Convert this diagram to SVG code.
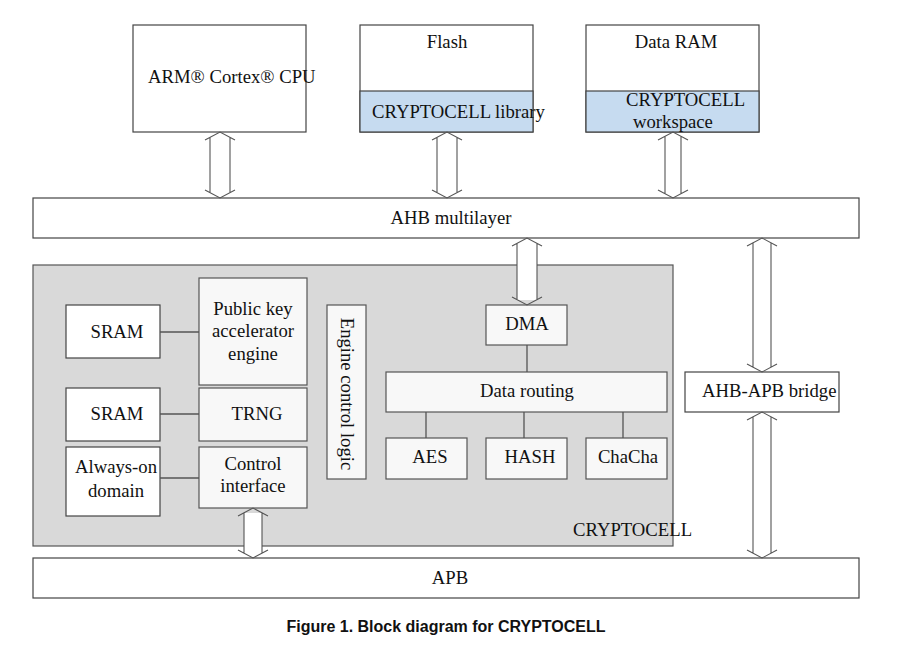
<svg xmlns="http://www.w3.org/2000/svg" width="908" height="650" viewBox="0 0 908 650">
<style>
text{font-family:"Liberation Serif","Times New Roman",serif;font-size:18.7px;fill:#111}
.c{text-anchor:middle}
.box{fill:#fff;stroke:#444;stroke-width:1.2}
.in{fill:#f8f8f8;stroke:#555;stroke-width:1.2}
.blue{fill:#c6dbf0;stroke:#444;stroke-width:1.2}
.ln{stroke:#555;stroke-width:1.3;fill:none}
.ar{stroke:#555;stroke-width:1.1;fill:none}
.sh{fill:#fff;stroke:none}
.cap{font-family:"Liberation Sans",Arial,sans-serif;font-weight:bold;font-size:16px;fill:#111}
</style>
<rect width="908" height="650" fill="#fff"/>
<g id="cryptocell">
<rect x="33" y="265" width="640" height="281" fill="#d9d9d9" stroke="#555" stroke-width="1.2"/>
<text x="573" y="536">CRYPTOCELL</text>
</g>
<g id="cpu"><rect class="box" x="133" y="25" width="173" height="107"/><text x="148" y="83">ARM® Cortex® CPU</text></g>
<g id="flash"><rect class="box" x="360" y="25" width="173" height="107"/><rect class="blue" x="360" y="91" width="173" height="41"/><text class="c" x="447" y="48">Flash</text><text x="372" y="118">CRYPTOCELL library</text></g>
<g id="dataram"><rect class="box" x="586" y="25" width="173" height="107"/><rect class="blue" x="586" y="91" width="173" height="41"/><text class="c" x="676" y="48">Data RAM</text><text x="626" y="106">CRYPTOCELL</text><text x="633" y="128">workspace</text></g>
<g id="ahb"><rect class="box" x="33" y="198" width="826" height="40"/><text class="c" x="451" y="224">AHB multilayer</text></g>
<g id="apb"><rect class="box" x="33" y="558" width="826" height="40"/><text class="c" x="450" y="584">APB</text></g>
<g id="sram1"><rect class="box" x="66" y="305" width="94" height="53"/><text class="c" x="117" y="338">SRAM</text></g>
<g id="pka"><rect class="in" x="199" y="278" width="108" height="107"/><text class="c" x="253" y="315">Public key</text><text class="c" x="253" y="337">accelerator</text><text class="c" x="253" y="360">engine</text></g>
<g id="sram2"><rect class="box" x="66" y="388" width="94" height="53"/><text class="c" x="117" y="420">SRAM</text></g>
<g id="trng"><rect class="in" x="199" y="388" width="108" height="53"/><text class="c" x="257" y="420">TRNG</text></g>
<g id="aon"><rect class="box" x="66" y="447" width="94" height="69"/><text class="c" x="116" y="473">Always-on</text><text class="c" x="116" y="497">domain</text></g>
<g id="ctrl"><rect class="in" x="199" y="447" width="108" height="61"/><text class="c" x="253" y="470">Control</text><text class="c" x="253" y="492">interface</text></g>
<g id="ecl"><rect class="in" x="327" y="305" width="39" height="174"/><text class="c" transform="translate(341,394) rotate(90)">Engine control logic</text></g>
<g id="dma"><rect class="in" x="486" y="305" width="81" height="40"/><text class="c" x="527" y="330">DMA</text></g>
<g id="routing"><rect class="in" x="386" y="372" width="281" height="40"/><text class="c" x="527" y="397">Data routing</text></g>
<g id="aes"><rect class="in" x="386" y="438" width="81" height="41"/><text class="c" x="430" y="463">AES</text></g>
<g id="hash"><rect class="in" x="486" y="438" width="81" height="41"/><text class="c" x="530" y="463">HASH</text></g>
<g id="chacha"><rect class="in" x="586" y="438" width="81" height="41"/><text class="c" x="628" y="463">ChaCha</text></g>
<g id="bridge"><rect class="box" x="685" y="372" width="154" height="40"/><text x="702" y="397">AHB-APB bridge</text></g>
<g id="connectors">
<path class="ln" d="M160 332H199M160 414H199M160 478H199M527 345V372M426 412V438M524 412V438M623 412V438"/>
<rect class="sh" x="210" y="137" width="20" height="56"/>
<path class="ar" d="M205 140L220 132L235 140M205 190L220 198L235 190M210 137.3V192.7M230 137.3V192.7"/>
<rect class="sh" x="437" y="137" width="20" height="56"/>
<path class="ar" d="M432 140L447 132L462 140M432 190L447 198L462 190M437 137.3V192.7M457 137.3V192.7"/>
<rect class="sh" x="665" y="137" width="16" height="56"/>
<path class="ar" d="M658 140L673 132L688 140M658 190L673 198L688 190M665 136.3V193.7M681 136.3V193.7"/>
<rect class="sh" x="517" y="243" width="20" height="57"/>
<path class="ar" d="M512 246L527 238L542 246M512 297L527 305L542 297M517 243.3V299.7M537 243.3V299.7"/>
<rect class="sh" x="753" y="243" width="18" height="124"/>
<path class="ar" d="M747 246L762 238L777 246M747 364L762 372L777 364M753 242.8V367.2M771 242.8V367.2"/>
<rect class="sh" x="753" y="417" width="18" height="136"/>
<path class="ar" d="M747 420L762 412L777 420M747 550L762 558L777 550M753 416.8V553.2M771 416.8V553.2"/>
<rect class="sh" x="244" y="513" width="18" height="40"/>
<path class="ar" d="M238 516L253 508L268 516M238 550L253 558L268 550M244 512.8V553.2M262 512.8V553.2"/>
</g>
<text class="cap" x="446" y="632" text-anchor="middle">Figure 1. Block diagram for CRYPTOCELL</text>
</svg>
